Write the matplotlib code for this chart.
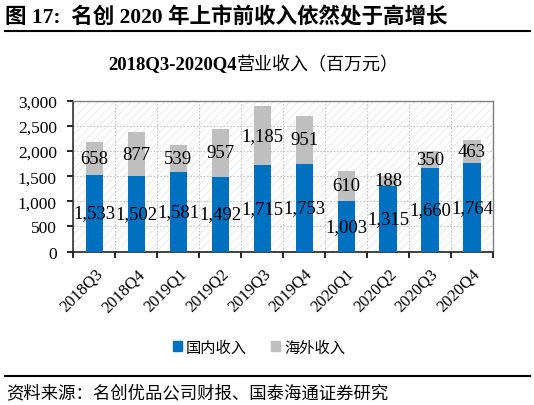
import matplotlib
matplotlib.use("Agg")
import matplotlib.pyplot as plt
from matplotlib.patches import Rectangle
from matplotlib.lines import Line2D
import numpy as np

plt.rcParams['font.family'] = ['Liberation Serif', 'Noto Sans CJK SC']
plt.rcParams['hatch.linewidth'] = 0.6

categories = ['2018Q3', '2018Q4', '2019Q1', '2019Q2', '2019Q3',
              '2019Q4', '2020Q1', '2020Q2', '2020Q3', '2020Q4']
domestic = [1533, 1502, 1581, 1492, 1715, 1753, 1003, 1315, 1660, 1764]
overseas = [658, 877, 539, 957, 1185, 951, 610, 188, 350, 463]
yticks = [0, 500, 1000, 1500, 2000, 2500, 3000]

blue = '#0070C0'
gray = '#BFBFBF'

fig = plt.figure(figsize=(5.34, 4.06), dpi=100)
ax = fig.add_axes([0.1376, 0.378, 0.7855, 0.371])

x = np.arange(len(categories))
ax.set_xlim(-0.5, len(categories) - 0.5)
ax.set_ylim(0, 3000)

# hatched background
bg = Rectangle((0, 0), 1, 1, transform=ax.transAxes, facecolor='white',
               edgecolor='#E8E8E8', hatch='////', linewidth=0, zorder=0)
ax.add_patch(bg)

bw = 0.41
ax.bar(x, domestic, width=bw, color=blue, zorder=3, label='国内收入')
ax.bar(x, overseas, width=bw, bottom=domestic, color=gray, zorder=3, label='海外收入')

for xi, d, o in zip(x, domestic, overseas):
    ax.text(xi, d / 2, f'{d:,}', ha='center', va='center', fontsize=13.5,
            family='Liberation Serif', zorder=4)
    ax.text(xi, d + o / 2, f'{o:,}', ha='center', va='center', fontsize=13.5,
            family='Liberation Serif', zorder=4)

ax.set_yticks(yticks)
ax.set_yticklabels([f'{v:,}' for v in yticks], fontsize=12.5, family='Liberation Serif')
ax.set_xticks(np.arange(-0.5, len(categories), 1.0))
ax.set_xticklabels([])
ax.set_xticks(x, minor=True)
ax.set_xticklabels(categories, minor=True, rotation=45, ha='right',
                   rotation_mode='anchor', fontsize=12, family='Liberation Serif')
ax.tick_params(axis='x', which='minor', length=0, pad=10)
ax.tick_params(axis='x', which='major', length=4, width=1.2, direction='out')
ax.tick_params(axis='y', length=4, width=1.2, direction='out', pad=8)

ax.grid(True, which='major', axis='both', color='#C8C8C8', linestyle=(0, (1.5, 1.5)),
        linewidth=0.8, zorder=1)
ax.set_axisbelow(True)

ax.spines['left'].set_color('#333333')
ax.spines['left'].set_linewidth(1.2)
ax.spines['bottom'].set_color('#222222')
ax.spines['bottom'].set_linewidth(1.2)
ax.spines['top'].set_color('#808080')
ax.spines['right'].set_color('#808080')
ax.spines['top'].set_linewidth(1.0)
ax.spines['right'].set_linewidth(1.0)

# header
fig.text(0.010, 1 - 18 / 406, '图 17:  名创 2020 年上市前收入依然处于高增长', ha='left', va='center',
         fontsize=15.5, fontweight='bold', family=['Liberation Serif', 'Noto Sans CJK SC'])
fig.add_artist(Line2D([0.01, 0.993], [1 - 31.5 / 406, 1 - 31.5 / 406], color='black',
                      linewidth=1.5, transform=fig.transFigure))

# subtitle (bold Latin part, regular Chinese part)
ysub = 1 - 65 / 406
fig.text(237 / 534, ysub, '2018Q3-2020Q4', ha='right', va='center',
         fontsize=13.5, fontweight='bold', family='Liberation Serif')
fig.text(237 / 534, ysub, '营业收入（百万元）', ha='left', va='center',
         fontsize=13, family='Noto Sans CJK SC')

# legend
handles = [Rectangle((0, 0), 1, 1, color=blue), Rectangle((0, 0), 1, 1, color=gray)]
fig.legend(handles, ['国内收入', '海外收入'], loc='center', bbox_to_anchor=(259 / 534, 1 - 348 / 406),
           ncol=2, frameon=False, prop={'family': 'Noto Sans CJK SC', 'size': 11},
           handlelength=0.6, handleheight=0.6, handletextpad=0.25, columnspacing=1.6)

# footer
fig.add_artist(Line2D([0.01, 0.993], [1 - 377 / 406, 1 - 377 / 406], color='black',
                      linewidth=1.5, transform=fig.transFigure))
fig.text(0.012, 1 - 393 / 406, '资料来源：名创优品公司财报、国泰海通证券研究', ha='left', va='center',
         fontsize=12.5, family='Noto Sans CJK SC')

fig.savefig('out.png', dpi=100)
